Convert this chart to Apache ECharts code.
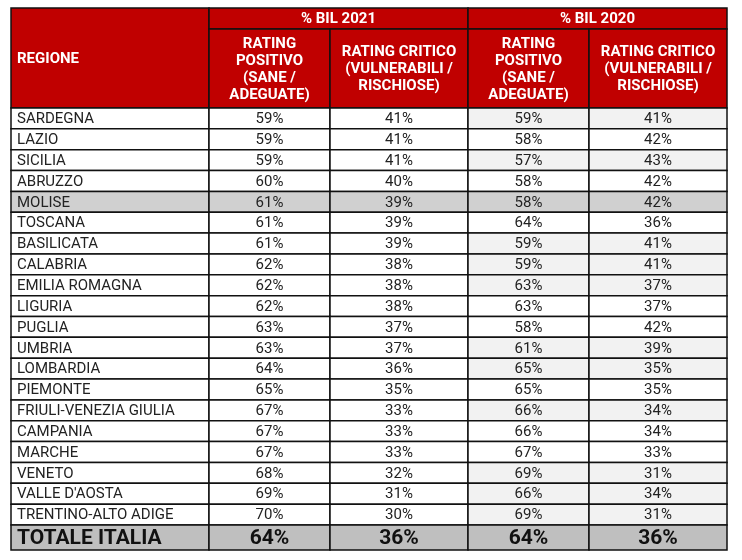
<!DOCTYPE html>
<html><head><meta charset="utf-8">
<script src="https://cdn.jsdelivr.net/npm/echarts@6/dist/echarts.min.js"></script>
<style>html,body{margin:0;padding:0;background:#fff}#c{width:742px;height:560px}</style>
</head><body><div id="c"></div>
<script>
const regions = ["SARDEGNA","LAZIO","SICILIA","ABRUZZO","MOLISE","TOSCANA","BASILICATA","CALABRIA","EMILIA ROMAGNA","LIGURIA","PUGLIA","UMBRIA","LOMBARDIA","PIEMONTE","FRIULI-VENEZIA GIULIA","CAMPANIA","MARCHE","VENETO","VALLE D'AOSTA","TRENTINO-ALTO ADIGE"];
const pos2021 = [59,59,59,60,61,61,61,62,62,62,63,63,64,65,67,67,67,68,69,70];
const crit2021 = [41,41,41,40,39,39,39,38,38,38,37,37,36,35,33,33,33,32,31,30];
const pos2020 = [59,58,57,58,58,64,59,59,63,63,58,61,65,65,66,66,67,69,66,69];
const crit2020 = [41,42,43,42,42,36,41,41,37,37,42,39,35,35,34,34,33,31,34,31];
const totalLabel = "TOTALE ITALIA";
const totals = [64,36,64,36];
const groupHeaders = ["% BIL 2021","% BIL 2020"];
const firstHeader = "REGIONE";
const subHeaders = ["RATING\nPOSITIVO\n(SANE /\nADEGUATE)","RATING CRITICO\n(VULNERABILI /\nRISCHIOSE)","RATING\nPOSITIVO\n(SANE /\nADEGUATE)","RATING CRITICO\n(VULNERABILI /\nRISCHIOSE)"];
const shaded2020 = [1,0,1,0,0,0,1,1,1,0,0,1,1,0,1,0,0,1,1,1];
const highlightRow = "MOLISE";

const colEdges = [0,198,319,457,578,716];
const h1 = 21, h2 = 79, rh = 20.85, th = 25;
const RED = '#c00000';
const HF = 'bold 15px Roboto', DF = '15px Roboto', TF = 'bold 21px Roboto';
const cells = [];
cells.push([colEdges[0],0,colEdges[1],h1+h2,firstHeader,RED,'#fff',HF,'left']);
groupHeaders.forEach((g,i)=>cells.push([colEdges[1+2*i],0,colEdges[3+2*i],h1,g,RED,'#fff',HF,'center']));
subHeaders.forEach((s,i)=>cells.push([colEdges[1+i],h1,colEdges[2+i],h1+h2,s,RED,'#fff',HF,'center']));
regions.forEach((r,k)=>{
  const y0 = h1+h2+k*rh, y1 = y0+rh;
  const hl = r===highlightRow;
  const vals = [pos2021[k],crit2021[k],pos2020[k],crit2020[k]];
  cells.push([colEdges[0],y0,colEdges[1],y1,r,hl?'#d0d0d0':'#fff','#222',DF,'left']);
  vals.forEach((v,i)=>{
    let fill = hl?'#d0d0d0':(i>=2&&shaded2020[k]?'#f2f2f2':'#fff');
    cells.push([colEdges[1+i],y0,colEdges[2+i],y1,v+'%',fill,'#222',DF,'center']);
  });
});
const ty0 = h1+h2+regions.length*rh;
cells.push([colEdges[0],ty0,colEdges[1],ty0+th,totalLabel,'#bfbfbf','#111',TF,'left']);
totals.forEach((v,i)=>cells.push([colEdges[1+i],ty0,colEdges[2+i],ty0+th,v+'%','#bfbfbf','#111',TF,'center']));

const chart = echarts.init(document.getElementById('c'));
chart.setOption({
  animation:false,
  grid:{left:11,top:8,width:716,height:ty0+th},
  xAxis:{type:'value',min:0,max:colEdges[5],show:false},
  yAxis:{type:'value',min:0,max:ty0+th,inverse:true,show:false},
  series:[{type:'custom',data:cells,renderItem:(params,api)=>{
    const d = cells[params.dataIndex];
    const p0 = api.coord([d[0],d[1]]), p1 = api.coord([d[2],d[3]]);
    const w = p1[0]-p0[0], h = p1[1]-p0[1];
    return {type:'group',children:[
      {type:'rect',shape:{x:p0[0],y:p0[1],width:w,height:h},style:{fill:d[5],stroke:'#111',lineWidth:1.5}},
      {type:'text',style:{text:d[4],x:d[8]==='left'?p0[0]+6:p0[0]+w/2,y:p0[1]+h/2+1,align:d[8],verticalAlign:'middle',fill:d[6],font:d[7],lineHeight:17}}
    ]};
  }}]
});
</script></body></html>
